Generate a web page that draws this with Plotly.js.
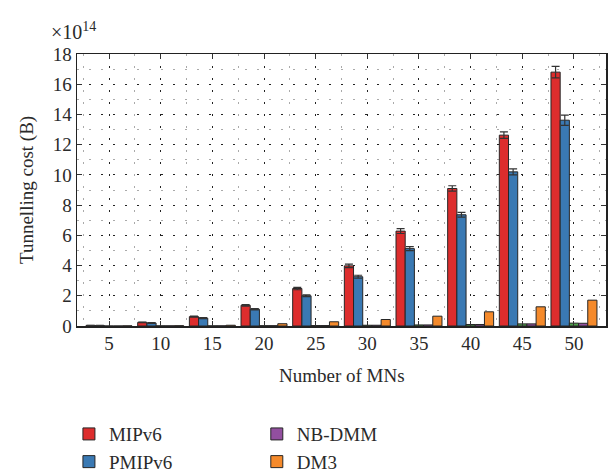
<!DOCTYPE html>
<html>
<head>
<meta charset="utf-8">
<script src="https://cdn.plot.ly/plotly-3.0.1.min.js"></script>
<style>
  html, body { margin: 0; padding: 0; background: #fff; }
  #chart { width: 610px; height: 476px; }
</style>
</head>
<body>
<div id="chart"></div>
<script>
// Number of mobile nodes (group positions)
const mnCounts = [5, 10, 15, 20, 25, 30, 35, 40, 45, 50];

// Tunnelling cost, in units of 1e14 bytes
const mipv6   = [0.04, 0.24, 0.62, 1.37, 2.48, 3.98, 6.28, 9.10, 12.63, 16.80];
const pmipv6  = [0.03, 0.20, 0.52, 1.11, 2.00, 3.26, 5.12, 7.36, 10.20, 13.62];
const dmm     = [0.00, 0.01, 0.01, 0.02, 0.03, 0.05, 0.07, 0.10, 0.14, 0.19];
const nbdmm   = [0.00, 0.01, 0.01, 0.02, 0.03, 0.05, 0.07, 0.10, 0.14, 0.18];
const dm3     = [0.01, 0.02, 0.05, 0.15, 0.28, 0.43, 0.65, 0.94, 1.27, 1.71];

// Error bar half-widths
const mipv6Err  = [0.01, 0.02, 0.03, 0.05, 0.08, 0.12, 0.16, 0.18, 0.22, 0.38];
const pmipv6Err = [0.01, 0.02, 0.03, 0.04, 0.06, 0.10, 0.13, 0.16, 0.20, 0.34];

const yTickVals = [0, 2, 4, 6, 8, 10, 12, 14, 16, 18];
const xTickVals = [5, 10, 15, 20, 25, 30, 35, 40, 45, 50];

const outline = { color: '#262626', width: 1 };
const serif = 'Liberation Serif, DejaVu Serif, serif';

function barTrace(name, y, color, opts) {
  return Object.assign({
    type: 'bar',
    name: name,
    x: mnCounts,
    y: y,
    marker: { color: color, line: outline },
    hoverinfo: 'x+y+name'
  }, opts || {});
}

const errStyle = { type: 'data', visible: true, color: '#333', thickness: 1.2, width: 4 };

const traces = [
  barTrace('MIPv6', mipv6, '#DD2D2D', { error_y: Object.assign({ array: mipv6Err }, errStyle), legend: 'legend' }),
  barTrace('PMIPv6', pmipv6, '#3A79B3', { error_y: Object.assign({ array: pmipv6Err }, errStyle), legend: 'legend' }),
  barTrace('DMM', dmm, '#4DA04A', { showlegend: false }),
  barTrace('NB-DMM', nbdmm, '#924F9F', { legend: 'legend2' }),
  barTrace('DM3', dm3, '#F58A2B', { legend: 'legend2' })
];

const gridDash = '2px,10px';

// Two legend columns placed under the plot in container coordinates
const legendBase = {
  xref: 'container', yref: 'container',
  xanchor: 'left', yanchor: 'top',
  y: 0.128,
  orientation: 'v',
  font: { size: 19 },
  bgcolor: 'rgba(0,0,0,0)',
  tracegroupgap: 0
};

const axisBase = {
  ticks: 'inside',
  ticklen: 5,
  tickcolor: '#333',
  showline: true,
  linecolor: '#222',
  linewidth: 1.5,
  mirror: 'ticks',
  showgrid: true,
  gridcolor: '#222',
  griddash: gridDash,
  gridwidth: 1,
  zeroline: false,
  automargin: false,
  tickfont: { size: 19 }
};

const layout = {
  width: 610,
  height: 476,
  margin: { l: 77, r: 4, t: 54, b: 150, autoexpand: false },
  paper_bgcolor: '#fff',
  plot_bgcolor: '#fff',
  font: { family: serif, size: 18, color: '#2a2a2a' },
  barmode: 'group',
  bargap: 0.11,
  bargroupgap: 0,
  xaxis: Object.assign({}, axisBase, {
    range: [1.9, 53.1],
    tickvals: xTickVals,
    minor: { dtick: 2.5, tick0: 2.5, showgrid: true, gridcolor: '#aaa', griddash: gridDash, gridwidth: 1 }
  }),
  yaxis: Object.assign({}, axisBase, {
    range: [0, 18],
    tickvals: yTickVals,
    minor: { dtick: 1, showgrid: true, gridcolor: '#aaa', griddash: gridDash, gridwidth: 1 }
  }),
  legend: Object.assign({}, legendBase, { x: 0.113 }),
  legend2: Object.assign({}, legendBase, { x: 0.421 }),
  annotations: [
    {
      // axis multiplier
      text: '×10<sup>14</sup>',
      xref: 'paper', yref: 'paper',
      x: -0.052, y: 1.0,
      xanchor: 'left', yanchor: 'bottom',
      yshift: 9,
      showarrow: false,
      font: { size: 20 }
    },
    {
      // x axis title
      text: 'Number of MNs',
      xref: 'paper', yref: 'paper',
      x: 0.5, y: 0,
      xanchor: 'center', yanchor: 'middle',
      yshift: -49,
      showarrow: false,
      font: { size: 19 }
    },
    {
      // y axis title
      text: 'Tunnelling cost (B)',
      xref: 'paper', yref: 'paper',
      x: -0.0945, y: 0.5,
      xanchor: 'center', yanchor: 'middle',
      textangle: -90,
      showarrow: false,
      font: { size: 19 }
    }
  ]
};

Plotly.newPlot('chart', traces, layout, { staticPlot: true, displayModeBar: false });
</script>
</body>
</html>
